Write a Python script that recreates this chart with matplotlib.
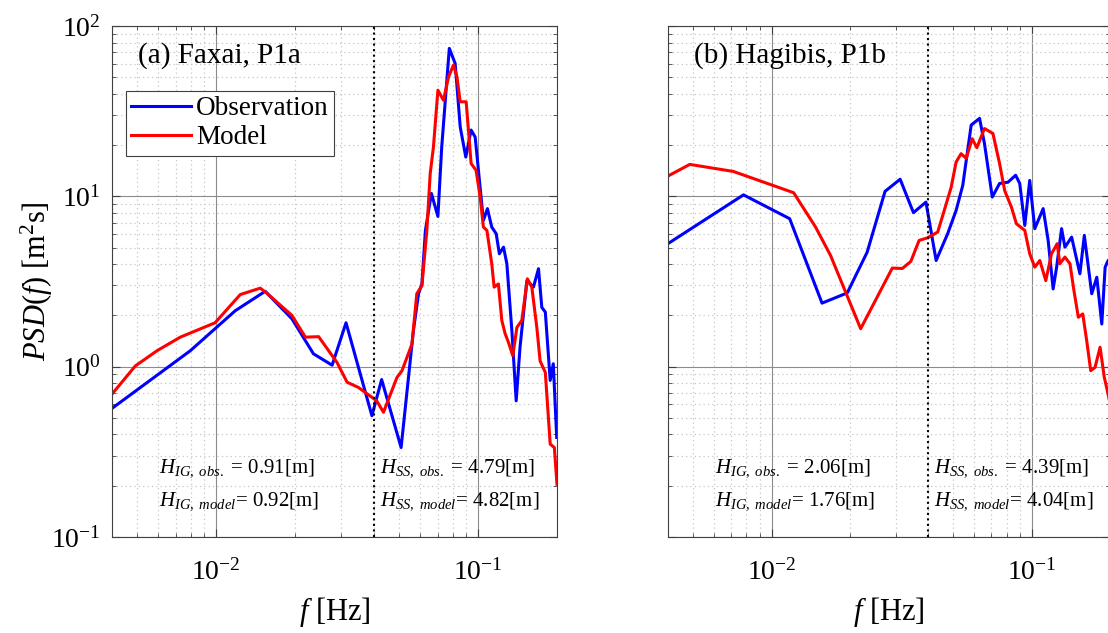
import numpy as np
import matplotlib
matplotlib.use('Agg')
from matplotlib import pyplot as plt

plt.rcParams['font.family'] = 'Liberation Serif'
plt.rcParams['mathtext.fontset'] = 'custom'
plt.rcParams['mathtext.rm'] = 'Liberation Serif'
plt.rcParams['mathtext.it'] = 'Liberation Serif:italic'

# (a) Faxai, P1a
f_obs_a = [0.004, 0.00796, 0.01182, 0.01538, 0.01945, 0.0235, 0.0277, 0.0313, 0.0393, 0.0428,
           0.0508, 0.0566, 0.0592, 0.0610, 0.0629, 0.0663, 0.0702, 0.0726, 0.0776, 0.0817,
           0.0854, 0.0897, 0.0940, 0.0974, 0.1047, 0.1085, 0.1127, 0.1172, 0.1205, 0.125,
           0.1287, 0.1345, 0.1397, 0.1445, 0.1535, 0.1626, 0.170, 0.175, 0.1805, 0.1884,
           0.1936, 0.1995]
psd_obs_a = [0.569, 1.24, 2.13, 2.77, 1.91, 1.19, 1.02, 1.81, 0.515, 0.84,
             0.335, 1.63, 2.68, 3.06, 6.31, 10.4, 7.62, 19.5, 73.9, 60.3,
             25.6, 17.0, 24.5, 22.3, 7.22, 8.47, 6.6, 6.03, 4.6, 5.03,
             4.02, 1.63, 0.63, 1.30, 3.2, 2.93, 3.76, 2.23, 2.09, 0.83,
             1.04, 0.384]
f_mod_a = [0.004, 0.00491, 0.00594, 0.00729, 0.0099, 0.01235, 0.01472, 0.0156, 0.01945, 0.0219,
           0.0246, 0.0289, 0.0316, 0.0349, 0.0410, 0.0435, 0.049, 0.0512, 0.0559, 0.0583,
           0.0610, 0.0637, 0.0656, 0.0675, 0.0702, 0.0737, 0.0771, 0.0805, 0.083, 0.0854,
           0.090, 0.094, 0.0982, 0.1018, 0.1047, 0.108, 0.1127, 0.1151, 0.1195, 0.1231,
           0.1268, 0.1305, 0.1356, 0.1406, 0.1468, 0.1542, 0.1603, 0.1675, 0.1724, 0.1805,
           0.1884, 0.1954, 0.2]
psd_mod_a = [0.69, 1.01, 1.24, 1.49, 1.81, 2.65, 2.89, 2.70, 2.0, 1.49,
             1.50, 1.06, 0.81, 0.755, 0.63, 0.54, 0.865, 0.947, 1.36, 2.68,
             2.99, 6.31, 13.6, 19.5, 42.0, 36.7, 50.3, 59.0, 50.3, 35.9,
             35.9, 15.6, 14.2, 9.9, 6.6, 6.31, 4.02, 2.93, 3.06, 1.87,
             1.56, 1.39, 1.16, 1.70, 1.87, 3.28, 2.93, 1.70, 1.08, 0.925,
             0.351, 0.335, 0.204]

# (b) Hagibis, P1b
f_obs_b = [0.00394, 0.0078, 0.01174, 0.01563, 0.01954, 0.0233, 0.0273, 0.0312, 0.0351, 0.0392,
           0.0429, 0.0475, 0.0512, 0.0543, 0.0585, 0.0630, 0.0658, 0.0705, 0.0752, 0.081,
           0.0867, 0.0899, 0.094, 0.0982, 0.1027, 0.1106, 0.1156, 0.1208, 0.1246, 0.1302,
           0.1341, 0.1423, 0.1531, 0.1592, 0.170, 0.1778, 0.1858, 0.1914, 0.1965, 0.2]
psd_obs_b = [5.2, 10.2, 7.39, 2.36, 2.71, 4.7, 10.7, 12.6, 8.02, 9.25,
             4.2, 6.03, 8.27, 11.6, 26.2, 28.7, 20.4, 9.9, 11.9, 12.1,
             13.3, 11.9, 6.75, 12.4, 6.46, 8.47, 5.51, 2.86, 3.84, 6.46,
             5.03, 5.76, 3.51, 5.9, 2.68, 3.35, 1.78, 3.84, 4.2, 4.3]
f_mod_b = [0.00394, 0.00485, 0.00713, 0.01216, 0.01476, 0.01685, 0.022, 0.0291, 0.0318, 0.0343,
           0.0369, 0.0398, 0.0435, 0.0461, 0.049, 0.0512, 0.0535, 0.056, 0.059, 0.0615,
           0.0658, 0.0709, 0.0752, 0.0787, 0.0835, 0.0873, 0.094, 0.0982, 0.1027, 0.1074,
           0.1132, 0.1191, 0.1252, 0.1282, 0.1341, 0.1402, 0.1452, 0.151, 0.157, 0.1626,
           0.1685, 0.175, 0.183, 0.190, 0.1965, 0.2]
psd_mod_b = [13.0, 15.4, 14.0, 10.5, 6.6, 4.5, 1.67, 3.79, 3.77, 4.15,
             5.51, 5.71, 6.17, 8.27, 11.3, 15.9, 17.8, 16.7, 21.8, 19.3,
             25.0, 23.4, 15.6, 10.8, 8.65, 6.9, 6.31, 4.6, 3.84, 4.2,
             3.2, 4.6, 5.27, 4.02, 4.4, 4.02, 2.8, 1.95, 2.04, 1.42,
             0.947, 0.99, 1.30, 0.865, 0.69, 0.6]

titles = ['(a) Faxai, P1a', '(b) Hagibis, P1b']
h_ig = [(0.91, 0.92), (2.06, 1.76)]
h_ss = [(4.79, 4.82), (4.39, 4.04)]
f_split = 0.04

fig = plt.figure(figsize=(11.08, 6.33), dpi=100)
ax1 = fig.add_axes([0.1011, 0.1517, 0.4016, 0.8072])
ax2 = fig.add_axes([0.6029, 0.1517, 0.3990, 0.8072])

data = [(f_obs_a, psd_obs_a, f_mod_a, psd_mod_a), (f_obs_b, psd_obs_b, f_mod_b, psd_mod_b)]

for i, ax in enumerate([ax1, ax2]):
    fo, po, fm, pm = data[i]
    ax.loglog(fo, po, color=(0, 0, 1), lw=2.2, label='Observation')
    ax.loglog(fm, pm, color=(1, 0, 0), lw=2.2, label='Model')
    ax.axvline(f_split, color='k', ls=':', lw=1.5)
    ax.set_xlim(0.004, 0.2)
    ax.set_ylim(0.1, 100)
    ax.grid(True, which='major', color='0.55', lw=0.8)
    ax.grid(True, which='minor', color='0.78', ls=(0, (1, 2.5)), lw=0.9)
    ax.tick_params(which='both', direction='in', top=True, right=True, labelsize=20, color='0.25')
    ax.tick_params(which='major', length=6)
    ax.tick_params(which='minor', length=3)
    ax.tick_params(axis='x', which='major', pad=16)
    ax.tick_params(axis='y', which='major', pad=8)
    for s in ax.spines.values():
        s.set_color('0.25')
    ax.set_xlabel(r'$f$ [Hz]', fontsize=22, labelpad=7)
    ax.text(0.058, 0.943, titles[i], transform=ax.transAxes, fontsize=21, va='center', ha='left')
    ax.text(0.106, 0.127, r'$H_{IG,\ obs.}$ = %.2f[m]' % h_ig[i][0], transform=ax.transAxes,
            fontsize=15, va='baseline')
    ax.text(0.106, 0.0626, r'$H_{IG,\ model}$= %.2f[m]' % h_ig[i][1], transform=ax.transAxes,
            fontsize=15, va='baseline')
    ax.text(0.602, 0.127, r'$H_{SS,\ obs.}$ = %.2f[m]' % h_ss[i][0], transform=ax.transAxes,
            fontsize=15, va='baseline')
    ax.text(0.602, 0.0626, r'$H_{SS,\ model}$= %.2f[m]' % h_ss[i][1], transform=ax.transAxes,
            fontsize=15, va='baseline')

ax1.set_ylabel(r'$PSD(f)$ [m$^2$s]', fontsize=22, labelpad=-3)
ax2.tick_params(labelleft=False)
leg = ax1.legend(loc='upper left', bbox_to_anchor=(0.031, 0.873), borderaxespad=0,
                 fontsize=19.5, fancybox=False, framealpha=1, edgecolor='0.25',
                 handlelength=2.2, borderpad=0.2, labelspacing=0.15, handletextpad=0.2)
leg.get_frame().set_linewidth(0.8)

plt.savefig('out.png', dpi=100)
